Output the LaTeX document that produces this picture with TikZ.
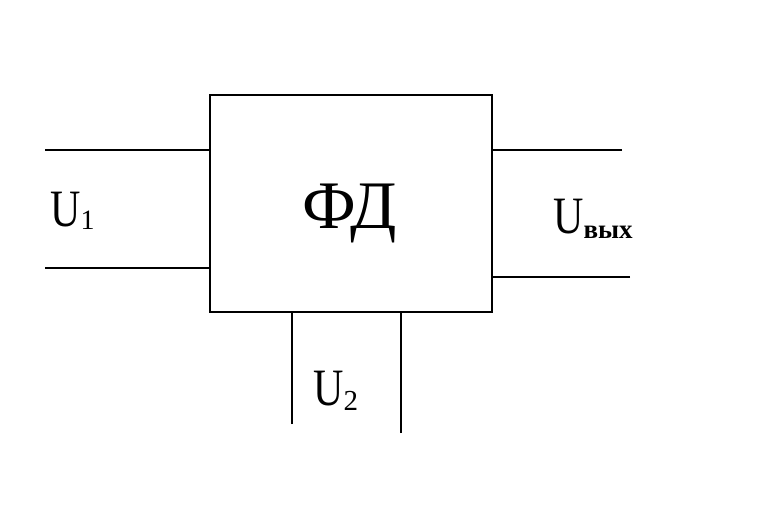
\documentclass[tikz,border=0pt]{standalone}
\usepackage{fontspec}
\setmainfont{Liberation Serif}
\usepackage{graphicx}
\tikzset{
  wire/.style={line width=2.2pt},
  blockbox/.style={draw, line width=2.2pt, minimum width=282pt, minimum height=217pt, inner sep=0pt},
  lbl/.style={inner sep=0pt, anchor=base west}
}
\newcommand{\bigU}{\scalebox{1}[1.25]{\fontsize{42}{42}\selectfont U}}
\begin{document}
\begin{tikzpicture}[x=1pt,y=-1pt]
\useasboundingbox (0,0) rectangle (762,508);
\node[blockbox] (fd) at (351,203.5) {};
\node[inner sep=0pt, anchor=base] (name) at (350,228) {\fontsize{68}{68}\selectfont ФД};
% free ends
\coordinate (l1) at (45,150);
\coordinate (l2) at (45,268);
\coordinate (r1) at (622,150);
\coordinate (r2) at (630,277);
\coordinate (b1) at (292,424);
\coordinate (b2) at (401,433);
\draw[wire] (l1) -- (l1 -| fd.west);
\draw[wire] (l2) -- (l2 -| fd.west);
\draw[wire] (r1) -- (r1 -| fd.east);
\draw[wire] (r2) -- (r2 -| fd.east);
\draw[wire] (b1) -- (b1 |- fd.south);
\draw[wire] (b2) -- (b2 |- fd.south);
% labels
\node[lbl] (u1) at (50,226) {\bigU\raisebox{-3pt}{\fontsize{28}{28}\selectfont 1}};
\node[lbl] (uout) at (553,233) {\bigU\raisebox{-5pt}{\fontsize{27}{27}\selectfont\bfseries вых}};
\node[lbl] (u2) at (313,405) {\bigU\raisebox{-5pt}{\fontsize{29}{29}\selectfont 2}};
\end{tikzpicture}
\end{document}
